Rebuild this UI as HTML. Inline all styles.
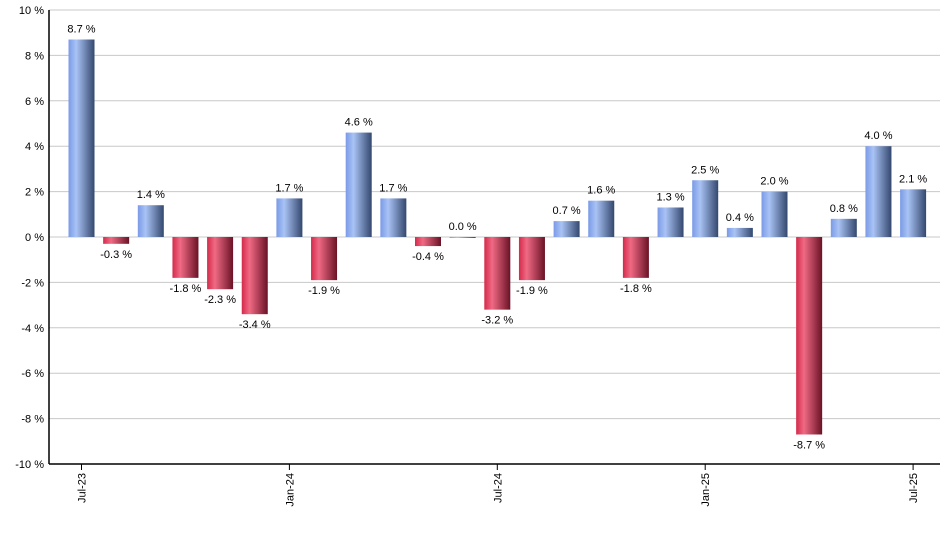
<!DOCTYPE html>
<html><head><meta charset="utf-8"><style>
body{margin:0;background:#fff;}
svg{display:block;font-family:"Liberation Sans",sans-serif;}
</style></head><body>
<svg width="940" height="550">
<defs>
<linearGradient id="gb" x1="0" x2="1" y1="0" y2="0"><stop offset="0" stop-color="#7a9ae6"/><stop offset="0.3" stop-color="#a9c3f5"/><stop offset="1" stop-color="#34486e"/></linearGradient>
<linearGradient id="gr" x1="0" x2="1" y1="0" y2="0"><stop offset="0" stop-color="#d42a4a"/><stop offset="0.3" stop-color="#f06a84"/><stop offset="1" stop-color="#6a1226"/></linearGradient>
</defs>
<g id="grid"></g><g id="bars"></g><g id="axes"></g>
</svg>
<script>
const categories=["Jul-23","Aug-23","Sep-23","Oct-23","Nov-23","Dec-23","Jan-24","Feb-24","Mar-24","Apr-24","May-24","Jun-24","Jul-24","Aug-24","Sep-24","Oct-24","Nov-24","Dec-24","Jan-25","Feb-25","Mar-25","Apr-25","May-25","Jun-25","Jul-25"];
const values=[8.7,-0.3,1.4,-1.8,-2.3,-3.4,1.7,-1.9,4.6,1.7,-0.4,0.0,-3.2,-1.9,0.7,1.6,-1.8,1.3,2.5,0.4,2.0,-8.7,0.8,4.0,2.1];
const yTicks=[10,8,6,4,2,0,-2,-4,-6,-8,-10];
const xTickLabels=["Jul-23","Jan-24","Jul-24","Jan-25","Jul-25"];
const NS="http://www.w3.org/2000/svg";
const L=49,R=940,T=10,B=464;
const y=v=>T+(10-v)/20*(B-T);
const step=34.65;
const x=i=>81.5+i*step;
function mk(t,a,p){const e=document.createElementNS(NS,t);for(const k in a)e.setAttribute(k,a[k]);p.appendChild(e);return e;}
const grid=document.getElementById('grid'),bars=document.getElementById('bars'),axes=document.getElementById('axes');
yTicks.forEach(v=>{
 const g=mk('line',{x1:L,x2:R,y1:y(v),y2:y(v),stroke:'#c8c8c8','stroke-width':1},grid);
 
 
 const t=mk('text',{x:L-5,y:y(v)+4,'text-anchor':'end','font-size':11,fill:'#000'},axes);
 t.textContent=v+' %';
 
 
});
values.forEach((v,i)=>{
 const top=Math.min(y(v),y(0)),h=Math.max(Math.abs(y(v)-y(0)),1);
 const r=mk('rect',{x:x(i)-13,y:top,width:26,height:h,fill:v>=0?'url(#gb)':'url(#gr)'},bars);
 
 
 const ly=v>=0?y(v)-7:y(v)+14;
 const t=mk('text',{x:x(i),y:ly,'text-anchor':'middle','font-size':11,fill:'#000'},bars);
 t.textContent=v.toFixed(1)+' %';
 
 
});
const ya=mk('line',{x1:L,x2:L,y1:T,y2:B,stroke:'#000','stroke-width':1.5},axes);


const xa=mk('line',{x1:L,x2:R,y1:B,y2:B,stroke:'#000','stroke-width':1.5},axes);


xTickLabels.forEach(lb=>{
 const i=categories.indexOf(lb),xx=x(i);
 const tk=mk('line',{x1:xx,x2:xx,y1:B,y2:B+6,stroke:'#000'},axes);
 
 
 const t=mk('text',{x:0,y:0,'text-anchor':'end','font-size':11,fill:'#000',transform:`translate(${xx+4},${B+9}) rotate(-90)`},axes);
 t.textContent=lb;
 
 
});
</script>
</body></html>
